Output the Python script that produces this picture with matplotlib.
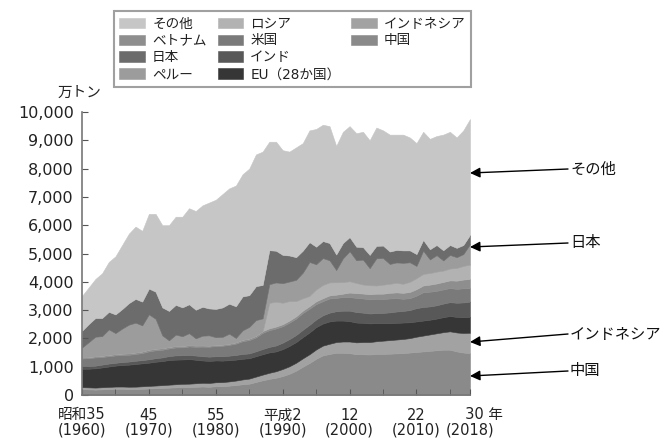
import matplotlib
matplotlib.use('Agg')
import numpy as np
import matplotlib.pyplot as plt
from matplotlib.patches import Patch

plt.rcParams['font.family'] = ['DejaVu Sans', 'Noto Sans CJK JP']

# 年（1960〜2018）
years = list(range(1960, 2019))

# 国別の漁船漁業生産量（万トン）、下から積み上げ順
china = [210, 200, 190, 200, 210, 220, 220, 210, 210, 220,
         230, 240, 250, 260, 270, 280, 280, 290, 300, 290,
         310, 310, 330, 350, 380, 400, 460, 520, 570, 610,
         670, 750, 860, 1000, 1130, 1280, 1400, 1450, 1490, 1490,
         1480, 1440, 1440, 1430, 1450, 1450, 1460, 1470, 1480, 1500,
         1520, 1540, 1560, 1580, 1600, 1600, 1540, 1500, 1480]
indonesia = [68, 70, 72, 74, 76, 78, 80, 82, 85, 88,
             92, 95, 98, 105, 110, 115, 120, 125, 130, 135,
             140, 145, 150, 160, 170, 180, 190, 200, 215, 230,
             250, 265, 280, 295, 310, 330, 345, 360, 380, 400,
             410, 420, 430, 440, 450, 470, 480, 490, 500, 510,
             540, 560, 580, 600, 620, 650, 670, 690, 720]
eu = [650, 660, 680, 700, 720, 740, 760, 780, 800, 810,
      820, 840, 850, 870, 870, 860, 870, 830, 790, 780,
      770, 760, 750, 740, 730, 720, 720, 720, 720, 700,
      700, 720, 730, 750, 770, 790, 780, 790, 760, 740,
      720, 700, 680, 660, 640, 620, 600, 590, 580, 560,
      540, 530, 520, 520, 530, 540, 550, 560, 560]
india = [90, 95, 95, 100, 105, 100, 105, 110, 115, 115,
         120, 125, 130, 140, 150, 150, 145, 150, 150, 150,
         150, 155, 160, 165, 170, 170, 175, 185, 195, 210,
         230, 240, 250, 260, 270, 270, 290, 310, 330, 350,
         370, 370, 360, 350, 355, 360, 380, 400, 410, 430,
         470, 480, 470, 470, 480, 490, 500, 520, 540]
usa = [270, 280, 290, 270, 260, 260, 250, 240, 240, 250,
       280, 280, 270, 270, 280, 280, 300, 310, 340, 350,
       360, 370, 380, 400, 450, 470, 490, 570, 590, 600,
       580, 580, 580, 590, 570, 540, 500, 500, 470, 480,
       480, 500, 500, 500, 500, 490, 490, 470, 430, 420,
       440, 520, 520, 510, 500, 500, 490, 500, 470]
vietnam = [40, 42, 44, 46, 48, 50, 52, 54, 56, 58,
           60, 60, 58, 56, 54, 52, 50, 48, 46, 44,
           42, 44, 46, 50, 54, 58, 62, 64, 66, 68,
           70, 75, 80, 85, 90, 100, 105, 110, 115, 120,
           160, 170, 175, 180, 185, 190, 200, 205, 210, 220,
           230, 240, 250, 260, 265, 270, 290, 310, 330]
russia = [0, 0, 0, 0, 0, 0, 0, 0, 0, 0,
          0, 0, 0, 0, 0, 0, 0, 0, 0, 0,
          0, 0, 0, 0, 0, 0, 0, 0, 900, 880,
          760, 690, 540, 440, 360, 420, 470, 460, 440, 410,
          400, 360, 320, 320, 290, 320, 320, 340, 320, 360,
          390, 410, 410, 420, 400, 420, 450, 480, 510]
peru = [350, 520, 690, 690, 900, 740, 880, 1010, 1050, 920,
        1250, 1050, 450, 230, 400, 340, 420, 250, 340, 360,
        270, 270, 350, 150, 330, 410, 550, 450, 660, 680,
        690, 690, 750, 900, 1200, 890, 950, 780, 430, 840,
        1060, 800, 880, 600, 960, 940, 700, 720, 740, 690,
        430, 820, 480, 580, 360, 480, 380, 420, 720]
japan = [590, 640, 660, 640, 620, 660, 690, 760, 840, 840,
         910, 960, 990, 1040, 1050, 1020, 1020, 1010, 1020, 950,
         1000, 1040, 1060, 1120, 1200, 1120, 1200, 1180, 1200, 1120,
         1000, 920, 800, 780, 700, 620, 600, 610, 550, 540,
         500, 480, 440, 470, 440, 440, 440, 440, 440, 420,
         420, 380, 360, 360, 360, 350, 330, 320, 330]
# 世界計（その他を含む合計）
total = [3500, 3800, 4100, 4300, 4700, 4900, 5300, 5700, 5950, 5800,
         6400, 6400, 6000, 6000, 6300, 6300, 6600, 6500, 6700, 6800,
         6900, 7100, 7300, 7400, 7800, 8000, 8500, 8600, 8950, 8950,
         8650, 8600, 8750, 8900, 9350, 9400, 9550, 9500, 8800, 9300,
         9500, 9250, 9300, 9000, 9450, 9350, 9200, 9200, 9200, 9100,
         8900, 9300, 9050, 9150, 9200, 9300, 9100, 9350, 9750]

series = [china, indonesia, eu, india, usa, vietnam, russia, peru, japan]
labels = ['中国', 'インドネシア', 'EU（28か国）', 'インド', '米国',
          'ベトナム', 'ロシア', 'ペルー', '日本']
colors = ['#8a8a8a', '#a2a2a2', '#363636', '#585858', '#7a7a7a',
          '#8e8e8e', '#b2b2b2', '#9c9c9c', '#6c6c6c']
other_color = '#c6c6c6'

W, H = 668, 438
fig = plt.figure(figsize=(W / 100, H / 100), dpi=100)
ax = fig.add_axes([82 / W, 1 - 395 / H, 388 / W, 283 / H])

polys = ax.stackplot(years, *series, colors=colors, labels=labels,
                     linewidth=0.4, edgecolor='face')
stack_top = np.sum(series, axis=0)
other = ax.fill_between(years, stack_top, total, color=other_color,
                        linewidth=0.4, edgecolor='face', label='その他')

ax.set_xlim(1960, 2018)
ax.set_ylim(0, 10000)
for s in ['top', 'right']:
    ax.spines[s].set_visible(False)
for s in ['left', 'bottom']:
    ax.spines[s].set_color('#777777')
    ax.spines[s].set_linewidth(1.2)

ax.set_yticks(range(0, 10001, 1000))
ax.set_yticklabels([f'{v:,}' for v in range(0, 10001, 1000)])
ax.set_xticks([1960, 1970, 1980, 1990, 2000, 2010, 2018])
ax.set_xticklabels(['昭和35\n(1960)', '45\n(1970)', '55\n(1980)', '平成2\n(1990)',
                    '12\n(2000)', '22\n(2010)', '\u3000\u300030 年\n(2018)'],
                   linespacing=1.0)
ax.set_xticks(range(1965, 2018, 10), minor=True)
ax.tick_params(axis='both', which='both', direction='in', length=4,
               color='#555555', labelcolor='#222222')
ax.tick_params(axis='y', pad=6, labelsize=11.5)
ax.tick_params(axis='x', pad=9, labelsize=10.5)

fig.text(79 / W, 1 - 92 / H, '万トン', ha='center', va='center',
         fontsize=10.5, color='#222222')

# 凡例（3列、4・4・2段）
h = dict(zip(labels, polys))
h['その他'] = other
blank = Patch(facecolor='none', edgecolor='none')
order = ['その他', 'ベトナム', '日本', 'ペルー', 'ロシア', '米国', 'インド',
         'EU（28か国）', 'インドネシア', '中国']
handles = [h[k] for k in order] + [blank, blank]
leg = fig.legend(handles, order + ['', ''], loc='upper left',
                 bbox_to_anchor=(114 / W, 1 - 11 / H), ncol=3, fontsize=9.8,
                 frameon=True, fancybox=False, edgecolor='#888888',
                 borderaxespad=0, handlelength=1.9, handleheight=0.8,
                 handletextpad=0.5, labelspacing=0.22, columnspacing=0.8,
                 borderpad=0.4)
leg.get_frame().set_linewidth(1.5)
for t in leg.get_texts():
    t.set_color('#222222')

# 右側の注記
notes = [('その他', (470, 173), (570, 169)),
         ('日本', (470, 247), (570, 243)),
         ('インドネシア', (470, 342), (570, 334)),
         ('中国', (470, 376), (570, 371))]
for txt, tip, pos in notes:
    fig.text(pos[0] / W, 1 - pos[1] / H, txt, ha='left', va='center',
             fontsize=11, family=['Noto Sans CJK JP'], color='#111111')
    ax.annotate('', xy=(tip[0] / W, 1 - tip[1] / H), xycoords='figure fraction',
                xytext=((pos[0] - 2) / W, 1 - pos[1] / H),
                textcoords='figure fraction', annotation_clip=False,
                arrowprops=dict(arrowstyle='-|>', color='black', lw=1.0,
                                mutation_scale=15, shrinkA=0, shrinkB=0))

fig.savefig('out.png', dpi=100)
